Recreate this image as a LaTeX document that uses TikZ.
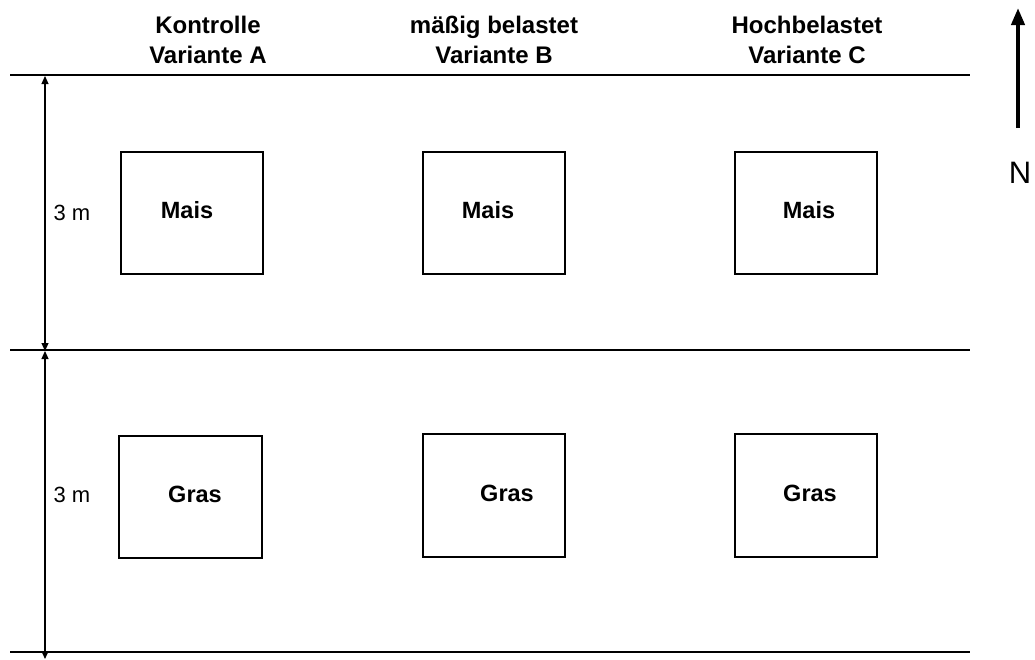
\documentclass[tikz,border=0pt]{standalone}
\usepackage{fontspec}
\setmainfont{Liberation Sans}
\usetikzlibrary{arrows.meta}
\begin{document}
\begin{tikzpicture}[x=1pt,y=-1pt,
  hline/.style={line width=2pt},
  plot/.style={draw,line width=1.2pt},
  lbl/.style={font=\fontsize{23.5}{26}\selectfont\bfseries,anchor=base,inner sep=0pt},
  head/.style={font=\fontsize{24}{30}\selectfont\bfseries,align=center,anchor=base,inner sep=0pt},
  dim/.style={line width=1.2pt,{Triangle[length=8pt,width=7pt]}-{Triangle[length=8pt,width=7pt]}},
  meas/.style={font=\fontsize{22}{26}\selectfont,anchor=base,inner sep=0pt}]
\useasboundingbox (0,0) rectangle (1035,659);
% horizontal lines
\coordinate (t1) at (10,75); \coordinate (t2) at (970,75);
\coordinate (m1) at (10,350); \coordinate (m2) at (970,350);
\coordinate (b1) at (10,652); \coordinate (b2) at (970,652);
\draw[hline] (t1) -- (t2);
\draw[hline] (m1) -- (m2);
\draw[hline] (b1) -- (b2);
% dimension arrows
\coordinate (d1) at (45,76); \coordinate (d2) at (45,351); \coordinate (d3) at (45,659);
\draw[dim] (d1) -- (d2);
\draw[dim] (d2) -- (d3);
\node[meas] (m3a) at (72,220) {3 m};
\node[meas] (m3b) at (72,502) {3 m};
% headers
\node[head] (hA) at (208,63) {Kontrolle\\Variante A};
\node[head] (hB) at (494,63) {mäßig belastet\\Variante B};
\node[head] (hC) at (807,63) {Hochbelastet\\Variante C};
% plots
\draw[plot] (121,152) rectangle (263,274);
\draw[plot] (423,152) rectangle (565,274);
\draw[plot] (735,152) rectangle (877,274);
\draw[plot] (119,436) rectangle (262,558);
\draw[plot] (423,434) rectangle (565,557);
\draw[plot] (735,434) rectangle (877,557);
\node[lbl] (mA) at (187,218) {Mais};
\node[lbl] (mB) at (488,218) {Mais};
\node[lbl] (mC) at (809,218) {Mais};
\node[lbl] (gA) at (195,502) {Gras};
\node[lbl] (gB) at (507,501) {Gras};
\node[lbl] (gC) at (810,501) {Gras};
% north arrow
\coordinate (n1) at (1018,128); \coordinate (n2) at (1018,8);
\draw[line width=4pt,-{Triangle[length=17pt,width=13pt]}] (n1) -- (n2);
\node[font=\fontsize{31}{31}\selectfont,anchor=base,inner sep=0pt] (N) at (1020,183) {N};
\end{tikzpicture}
\end{document}
